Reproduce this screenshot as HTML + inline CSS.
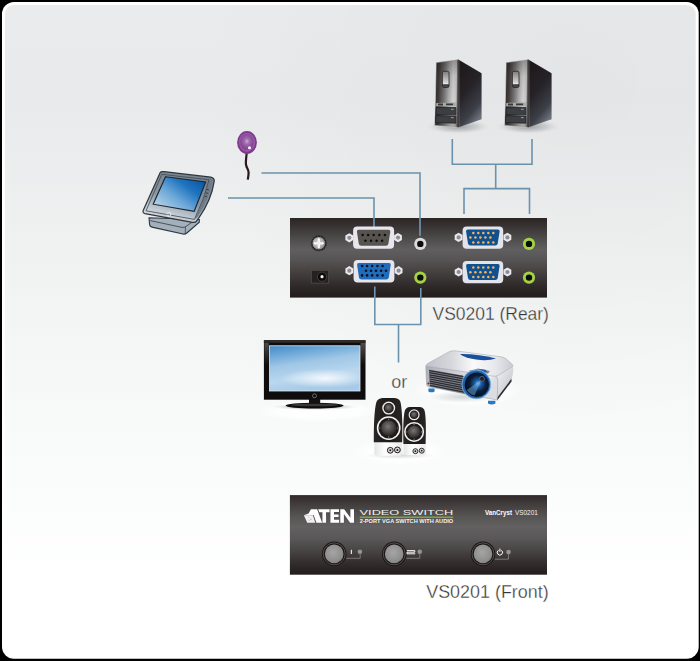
<!DOCTYPE html>
<html>
<head>
<meta charset="utf-8">
<title>VS0201 Diagram</title>
<style>
html,body{margin:0;padding:0;background:#000;}
body{width:700px;height:661px;overflow:hidden;font-family:"Liberation Sans",sans-serif;}
svg{display:block;}
text{font-family:"Liberation Sans",sans-serif;}
</style>
</head>
<body>
<svg width="700" height="661" viewBox="0 0 700 661">
<defs>
  <linearGradient id="bg" x1="0" y1="0" x2="0" y2="1">
    <stop offset="0" stop-color="#eaebec"/>
    <stop offset="0.15" stop-color="#e9eaeb"/>
    <stop offset="0.38" stop-color="#f0f1f1"/>
    <stop offset="0.6" stop-color="#f7f8f8"/>
    <stop offset="0.76" stop-color="#fbfcfc"/>
    <stop offset="0.87" stop-color="#ffffff"/>
  </linearGradient>
  <radialGradient id="bgdark" cx="0.82" cy="0.12" r="0.55">
    <stop offset="0" stop-color="#000000" stop-opacity="0.022"/>
    <stop offset="0.5" stop-color="#000000" stop-opacity="0.014"/>
    <stop offset="1" stop-color="#000000" stop-opacity="0"/>
  </radialGradient>
  <linearGradient id="dev" x1="0" y1="0" x2="0" y2="1">
    <stop offset="0" stop-color="#2b2524"/>
    <stop offset="0.12" stop-color="#3a3635"/>
    <stop offset="0.27" stop-color="#504d4d"/>
    <stop offset="0.4" stop-color="#605e5e"/>
    <stop offset="0.52" stop-color="#565454"/>
    <stop offset="0.7" stop-color="#423e3d"/>
    <stop offset="0.87" stop-color="#2d2827"/>
    <stop offset="1" stop-color="#221c1b"/>
  </linearGradient>
  <linearGradient id="devf" x1="0" y1="0" x2="0" y2="1">
    <stop offset="0" stop-color="#302b2a"/>
    <stop offset="0.12" stop-color="#423e3d"/>
    <stop offset="0.27" stop-color="#575454"/>
    <stop offset="0.4" stop-color="#626060"/>
    <stop offset="0.55" stop-color="#595757"/>
    <stop offset="0.72" stop-color="#454140"/>
    <stop offset="0.88" stop-color="#2f2a29"/>
    <stop offset="1" stop-color="#231d1c"/>
  </linearGradient>
  <radialGradient id="screw" cx="0.45" cy="0.45" r="0.6">
    <stop offset="0" stop-color="#d2d2d2"/>
    <stop offset="0.6" stop-color="#b1b1b1"/>
    <stop offset="1" stop-color="#7d7b7b"/>
  </radialGradient>
  <radialGradient id="btng" cx="0.45" cy="0.42" r="0.7">
    <stop offset="0" stop-color="#a6a5a5"/>
    <stop offset="0.7" stop-color="#8e8d8d"/>
    <stop offset="1" stop-color="#757373"/>
  </radialGradient>
  <linearGradient id="pcfront" x1="0" y1="0" x2="1" y2="0.08">
    <stop offset="0" stop-color="#2f2a29"/>
    <stop offset="0.2" stop-color="#403c3b"/>
    <stop offset="0.45" stop-color="#7a7878"/>
    <stop offset="0.65" stop-color="#b3b2b2"/>
    <stop offset="0.8" stop-color="#d2d2d2"/>
    <stop offset="0.92" stop-color="#c6c6c6"/>
    <stop offset="1" stop-color="#767373"/>
  </linearGradient>
  <linearGradient id="pcfrontv" x1="0" y1="0" x2="0" y2="1">
    <stop offset="0" stop-color="#1a1514" stop-opacity="0.35"/>
    <stop offset="0.25" stop-color="#1a1514" stop-opacity="0.08"/>
    <stop offset="0.6" stop-color="#1a1514" stop-opacity="0"/>
    <stop offset="1" stop-color="#1a1514" stop-opacity="0.25"/>
  </linearGradient>
  <linearGradient id="pcside" x1="0.2" y1="0" x2="0.6" y2="1">
    <stop offset="0" stop-color="#1d1819"/>
    <stop offset="0.45" stop-color="#262328"/>
    <stop offset="0.8" stop-color="#3d4048"/>
    <stop offset="1" stop-color="#6f747c"/>
  </linearGradient>
  <linearGradient id="pcbtn" x1="0" y1="0" x2="0" y2="1">
    <stop offset="0" stop-color="#7d7c7c"/>
    <stop offset="0.7" stop-color="#d6d6d6"/>
    <stop offset="0.8" stop-color="#f2f2f2"/>
    <stop offset="0.82" stop-color="#333"/>
    <stop offset="1" stop-color="#555"/>
  </linearGradient>
  <radialGradient id="shadow" cx="0.5" cy="0.5" r="0.5">
    <stop offset="0" stop-color="#7f8387" stop-opacity="0.75"/>
    <stop offset="0.6" stop-color="#a9acaf" stop-opacity="0.45"/>
    <stop offset="1" stop-color="#d8d9da" stop-opacity="0"/>
  </radialGradient>
  <g id="pc">
    <ellipse cx="458" cy="126.5" rx="32" ry="7.5" fill="url(#shadow)"/>
    <path d="M458.7 59.7 L481.6 73.2 L481.6 119.2 L458.7 127.3 Z" fill="url(#pcside)"/>
    <path d="M436.2 62.6 L458.7 59.5 L458.7 127.5 L434.7 125.4 Z" fill="url(#pcfront)" stroke="#d9d9d9" stroke-width="0.7"/>
    <path d="M436.2 62.6 L458.7 59.5 L458.7 127.5 L434.7 125.4 Z" fill="url(#pcfrontv)"/>
    <path d="M458.2 59.8 V127.3" stroke="#2a2524" stroke-width="1.2" fill="none"/>
    <rect x="442.4" y="71.3" width="6.6" height="16.2" rx="1.6" fill="url(#pcbtn)" stroke="#2a2625" stroke-width="0.8"/>
    <path d="M436.3 102.9 L455.7 102.5 L455.8 105.9 L436.1 106.2 Z" fill="#a9a8a8"/>
    <path d="M438 103.6 h5 v1.8 h-5z M446 103.5 h7 v1.8 h-7z" fill="#3b3838"/>
    <path d="M436.2 107.6 L455.9 107.5 L455.9 114.8 L435.9 114.6 Z" fill="#3b3e43" stroke="#1f1b1b" stroke-width="0.7"/>
    <path d="M435.8 115.8 L455.9 116 L455.9 123.2 L435.5 122.6 Z" fill="#3b3e43" stroke="#1f1b1b" stroke-width="0.7"/>
    <path d="M451 109.3 h2.6 M451 117.6 h2.6" stroke="#b9b9b9" stroke-width="0.8"/>
  </g>
  <linearGradient id="tsscreen" x1="0.05" y1="0.85" x2="0.9" y2="0.1">
    <stop offset="0" stop-color="#b9d3e8"/>
    <stop offset="0.4" stop-color="#6aa7d8"/>
    <stop offset="0.72" stop-color="#1f74bf"/>
    <stop offset="1" stop-color="#0c58a4"/>
  </linearGradient>
  <linearGradient id="tsbody" x1="0.7" y1="0" x2="0.3" y2="1">
    <stop offset="0" stop-color="#74808c"/>
    <stop offset="0.55" stop-color="#8a97a3"/>
    <stop offset="0.8" stop-color="#bfc8d0"/>
    <stop offset="1" stop-color="#dbe1e6"/>
  </linearGradient>
  <radialGradient id="irg" cx="0.5" cy="0.45" r="0.55">
    <stop offset="0" stop-color="#cfa8d5"/>
    <stop offset="0.35" stop-color="#a06aae"/>
    <stop offset="1" stop-color="#7d3d8d"/>
  </radialGradient>
  <linearGradient id="tvscr" x1="0" y1="0" x2="0.3" y2="1">
    <stop offset="0" stop-color="#4189c6"/>
    <stop offset="0.2" stop-color="#6aa6d7"/>
    <stop offset="0.45" stop-color="#a0c7e6"/>
    <stop offset="0.75" stop-color="#bad7ee"/>
    <stop offset="1" stop-color="#a6cae7"/>
  </linearGradient>
  <radialGradient id="tvglow" cx="0.62" cy="0.72" r="0.5" gradientTransform="translate(0 0.42) scale(1 0.42)">
    <stop offset="0" stop-color="#ffffff" stop-opacity="0.85"/>
    <stop offset="1" stop-color="#ffffff" stop-opacity="0"/>
  </radialGradient>
  <radialGradient id="lens" cx="0.55" cy="0.45" r="0.55">
    <stop offset="0" stop-color="#6fb3e6"/>
    <stop offset="0.25" stop-color="#1c5fa4"/>
    <stop offset="0.6" stop-color="#0a1f3d"/>
    <stop offset="1" stop-color="#050d1c"/>
  </radialGradient>
  <linearGradient id="prtop" x1="0" y1="0.5" x2="1" y2="0.5">
    <stop offset="0" stop-color="#bfc2ca"/>
    <stop offset="0.3" stop-color="#d6d8dd"/>
    <stop offset="0.55" stop-color="#fafafb"/>
    <stop offset="0.8" stop-color="#e6e7eb"/>
    <stop offset="1" stop-color="#c9ccd3"/>
  </linearGradient>
  <linearGradient id="prfront" x1="0" y1="0" x2="1" y2="0.2">
    <stop offset="0" stop-color="#a9acb5"/>
    <stop offset="0.5" stop-color="#d2d4da"/>
    <stop offset="0.85" stop-color="#f8f8fa"/>
    <stop offset="1" stop-color="#dcdde2"/>
  </linearGradient>
  <linearGradient id="prside" x1="0" y1="0" x2="1" y2="1">
    <stop offset="0" stop-color="#f6f6f8"/>
    <stop offset="0.6" stop-color="#d0d2d8"/>
    <stop offset="1" stop-color="#9da0a9"/>
  </linearGradient>
  <radialGradient id="spk" cx="0.45" cy="0.4" r="0.6">
    <stop offset="0" stop-color="#7a7676"/>
    <stop offset="0.55" stop-color="#4e4a4a"/>
    <stop offset="1" stop-color="#2a2626"/>
  </radialGradient>
  <linearGradient id="spkbody" x1="0" y1="0" x2="1" y2="0">
    <stop offset="0" stop-color="#2b2626"/>
    <stop offset="0.5" stop-color="#1d1919"/>
    <stop offset="1" stop-color="#2a2525"/>
  </linearGradient>
  <linearGradient id="spkbase" x1="0" y1="0" x2="1" y2="0">
    <stop offset="0" stop-color="#e4e5e7"/>
    <stop offset="0.4" stop-color="#ffffff"/>
    <stop offset="1" stop-color="#e9eaec"/>
  </linearGradient>
  <radialGradient id="wglow" cx="0.5" cy="0.5" r="0.5">
    <stop offset="0" stop-color="#ffffff" stop-opacity="0.95"/>
    <stop offset="0.65" stop-color="#ffffff" stop-opacity="0.8"/>
    <stop offset="1" stop-color="#ffffff" stop-opacity="0"/>
  </radialGradient>
  <linearGradient id="tvgloss" x1="0" y1="0" x2="0" y2="1">
    <stop offset="0" stop-color="#6a6666" stop-opacity="0.7"/>
    <stop offset="1" stop-color="#6a6666" stop-opacity="0"/>
  </linearGradient>
</defs>

<!-- panel -->
<rect x="2" y="2" width="696.7" height="656.8" rx="12" ry="12" fill="#ffffff"/>
<rect x="5" y="5" width="690.7" height="651" rx="9" ry="9" fill="url(#bg)"/>
<rect x="5" y="5" width="690.7" height="651" rx="9" ry="9" fill="url(#bgdark)"/>

<!-- connection lines -->
<g id="lines" fill="none" stroke="#6a92ac" stroke-width="1.6">
  <path d="M261.5 173 H420 V236"/>
  <path d="M228 198 H374 V228"/>
  <path d="M452.3 139 V164.3 H532 V139"/>
  <path d="M495.7 164.3 V188.6"/>
  <path d="M464 214 V188.6 H529.5 V214"/>
  <path d="M374.8 296 V324.5 H420.8 V296"/>
  <path d="M398.5 324.5 V362.5"/>
</g>

<!-- computers -->
<use href="#pc"/>
<use href="#pc" x="70"/>

<!-- touchscreen -->
<g id="touch">
  <path d="M149 217.8 L149.6 224.6 Q149.9 226.6 152 227.1 L183 234 Q185.2 234.4 186.8 233 L199.3 222.2 L199.3 219.5 Z" fill="#a3afba" stroke="#2e353c" stroke-width="1.1"/>
  <path d="M150.2 220.6 L182 227.4 Q184.3 227.7 186 226.4 L197.5 218.5" fill="none" stroke="#3d4750" stroke-width="0.9"/>
  <path d="M185.5 227 L185.2 233.6" fill="none" stroke="#3d4750" stroke-width="0.8"/>
  <path d="M160.3 172.3 Q161 171.4 164 171.7 L210.8 177.2 Q214.6 178 214.2 181.4 Q211.4 200 199 217.7 L196.3 221.4 Q195.2 222.8 192.6 222.3 L145 213.6 Q142.4 213 143.2 210.4 Z" fill="url(#tsbody)" stroke="#2e353c" stroke-width="1.2"/>
  <path d="M209 178.6 Q212.6 179.3 212.2 182 Q209.6 199 197.6 217 L194.6 219.3 Q205 200 209 178.6 Z" fill="#6f7c88"/>
  <path d="M161.8 174.3 L209 179.8 Q204.5 199 194.4 219.4 L146 210.8 Z" fill="none" stroke="#3d4750" stroke-width="0.8"/>
  <path d="M165.5 176.7 L205.7 182 L194.2 211.3 L153.2 204.2 Z" fill="url(#tsscreen)" stroke="#1d262f" stroke-width="1.1"/>
  <path d="M166.4 214.2 q1.6 -3 4.2 -1.2 q1.4 2.4 -1.4 3.6 q-2 -.2 -1.2 -1.8" fill="none" stroke="#f4f6f8" stroke-width="0.8"/>
  <path d="M206.6 189.6 q2 -.6 2.2 .8 M205.8 193 q2 -.6 2.2 .8 M204.8 196.4 q2 -.6 2.2 .8" stroke="#27323d" stroke-width="0.9" fill="none"/>
</g>

<!-- IR receiver -->
<g id="ir">
  <path d="M246.8 151 C246.6 156 245.6 160.5 245.9 164 C246.4 168 248.6 169.5 248.6 172.6 C248.6 175.4 248.1 177.4 247.8 179.6" fill="none" stroke="#2a1a1c" stroke-width="2.2"/>
  <ellipse cx="247" cy="142.5" rx="9.9" ry="11.4" fill="#7b3a8b"/>
  <ellipse cx="247" cy="142.3" rx="8.2" ry="9.6" fill="#9656a4"/>
  <ellipse cx="246.9" cy="142" rx="6.6" ry="7.8" fill="url(#irg)"/>
  <circle cx="249.5" cy="147.7" r="1.5" fill="#ffffff"/>
</g>

<!-- rear device -->
<g id="rear">
  <rect x="290" y="218" width="257" height="79.6" fill="url(#dev)"/>
  <!-- lines that overlay the box -->
  <g fill="none" stroke="#79a7c6" stroke-width="1.4">
    <path d="M374 217 V227"/>
    <path d="M420 217 V235.8"/>
    <path d="M374.8 286.6 V299"/>
    <path d="M420.8 288 V299"/>
  </g>
  <!-- screw -->
  <circle cx="318.8" cy="243.3" r="8" fill="#1f1a19"/>
  <circle cx="318.8" cy="243.3" r="7.3" fill="none" stroke="#6d6969" stroke-width="0.7" stroke-dasharray="1.6 1.1"/>
  <circle cx="318.8" cy="243.3" r="6.3" fill="url(#screw)"/>
  <path d="M318.8 239.3 V247.3 M314.8 243.3 H322.8" stroke="#ffffff" stroke-width="2.2" stroke-linecap="round" fill="none"/>
  <path d="M318.8 240.3 V246.3 M315.8 243.3 H321.8" stroke="#e6e6e6" stroke-width="0.7" stroke-linecap="round" fill="none"/>
  <!-- DC jack -->
  <rect x="311.3" y="270.3" width="17.4" height="12.8" fill="#262120" stroke="#555150" stroke-width="0.7"/>
  <circle cx="322" cy="276.7" r="4.6" fill="#0c0a0a" stroke="#4d4948" stroke-width="0.8"/>
  <circle cx="322" cy="276.7" r="1.6" fill="#f2f2f2"/>

  <!-- DB9 -->
  <g id="db9">
    <path d="M349.3 233.2 l3.9 2.3 v4.6 l-3.9 2.3 l-3.9 -2.3 v-4.6 z" fill="#e9e9ef"/>
    <circle cx="349.3" cy="237.8" r="2.1" fill="#8f8d92"/>
    <path d="M398 233 l3.9 2.3 v4.6 l-3.9 2.3 l-3.9 -2.3 v-4.6 z" fill="#e9e9ef"/>
    <circle cx="398" cy="237.6" r="2.1" fill="#8f8d92"/>
    <rect x="353.1" y="226.4" width="41" height="22.3" rx="4" ry="4" fill="#e6e6ec"/>
    <path d="M358.6 229.8 H388.6 Q390.6 229.8 390.3 231.8 L388.4 243.8 Q388 245.8 386 245.8 H361.2 Q359.2 245.8 358.8 243.8 L356.9 231.8 Q356.6 229.8 358.6 229.8 Z" fill="#57534f"/>
    <g fill="#0e0c0c">
      <circle cx="362.6" cy="235" r="1.25"/><circle cx="368.1" cy="235" r="1.25"/><circle cx="373.7" cy="235" r="1.25"/><circle cx="379.3" cy="235" r="1.25"/><circle cx="384.9" cy="235" r="1.25"/>
      <circle cx="365.4" cy="240.7" r="1.25"/><circle cx="371" cy="240.7" r="1.25"/><circle cx="376.6" cy="240.7" r="1.25"/><circle cx="382.1" cy="240.7" r="1.25"/>
    </g>
  </g>
  <!-- VGA out (blue) -->
  <g id="vgaout">
    <path d="M349.3 266.1 l3.9 2.3 v4.6 l-3.9 2.3 l-3.9 -2.3 v-4.6 z" fill="#e9e9ef"/>
    <circle cx="349.3" cy="270.7" r="2.1" fill="#8f8d92"/>
    <path d="M398.6 266.1 l3.9 2.3 v4.6 l-3.9 2.3 l-3.9 -2.3 v-4.6 z" fill="#e9e9ef"/>
    <circle cx="398.6" cy="270.7" r="2.1" fill="#8f8d92"/>
    <rect x="353.6" y="260" width="40.8" height="22.5" rx="4" ry="4" fill="#e6e6ec"/>
    <path d="M359 262.9 H389 Q391 262.9 390.7 264.9 L388.8 277.4 Q388.4 279.4 386.4 279.4 H361.4 Q359.4 279.4 359 277.4 L357.1 264.9 Q356.8 262.9 358.8 262.9 Z" fill="#1f6cba"/>
    <g fill="#0b1020">
      <circle cx="362.1" cy="266" r="1.3"/><circle cx="367.1" cy="266" r="1.3"/><circle cx="372.1" cy="266" r="1.3"/><circle cx="377.4" cy="266" r="1.3"/><circle cx="382.6" cy="266" r="1.3"/>
      <circle cx="366" cy="270.7" r="1.3"/><circle cx="371" cy="270.7" r="1.3"/><circle cx="376" cy="270.7" r="1.3"/><circle cx="381.1" cy="270.7" r="1.3"/><circle cx="386" cy="270.7" r="1.3"/>
      <circle cx="362.1" cy="275.4" r="1.3"/><circle cx="367.1" cy="275.4" r="1.3"/><circle cx="372.1" cy="275.4" r="1.3"/><circle cx="377.4" cy="275.4" r="1.3"/><circle cx="382.6" cy="275.4" r="1.3"/>
    </g>
  </g>
  <!-- audio jacks left -->
  <circle cx="420.3" cy="243.9" r="6.1" fill="#dcdcdc"/>
  <circle cx="420.3" cy="243.9" r="3.2" fill="#0d0b0b"/>
  <circle cx="420.3" cy="277.6" r="6.1" fill="#a3d345"/>
  <circle cx="420.3" cy="277.6" r="3.2" fill="#0d0b0b"/>

  <!-- VGA in 1 & 2 -->
  <g id="vgain">
    <path d="M458.6 232.8 l3.9 2.3 v4.6 l-3.9 2.3 l-3.9 -2.3 v-4.6 z" fill="#e9e9ef"/>
    <circle cx="458.6" cy="237.4" r="2.1" fill="#8f8d92"/>
    <path d="M507.4 232.8 l3.9 2.3 v4.6 l-3.9 2.3 l-3.9 -2.3 v-4.6 z" fill="#e9e9ef"/>
    <circle cx="507.4" cy="237.4" r="2.1" fill="#8f8d92"/>
    <rect x="462.6" y="226.4" width="40.6" height="22.3" rx="4" ry="4" fill="#e3e3ea"/>
    <path d="M467.8 229.5 H497.9 Q499.9 229.5 499.6 231.5 L497.7 243.5 Q497.3 245.5 495.3 245.5 H470.4 Q468.4 245.5 468 243.5 L466.1 231.5 Q465.8 229.5 467.8 229.5 Z" fill="#10508f"/>
    <g fill="#f7b65c">
      <circle cx="473.3" cy="232.9" r="1.25"/><circle cx="478.3" cy="232.9" r="1.25"/><circle cx="483.3" cy="232.9" r="1.25"/><circle cx="488.3" cy="232.9" r="1.25"/><circle cx="493.3" cy="232.9" r="1.25"/>
      <circle cx="470.4" cy="237.6" r="1.25"/><circle cx="475.4" cy="237.6" r="1.25"/><circle cx="480.4" cy="237.6" r="1.25"/><circle cx="485.4" cy="237.6" r="1.25"/><circle cx="490.4" cy="237.6" r="1.25"/>
      <circle cx="473.3" cy="242.4" r="1.25"/><circle cx="478.3" cy="242.4" r="1.25"/><circle cx="483.3" cy="242.4" r="1.25"/><circle cx="488.3" cy="242.4" r="1.25"/><circle cx="493.3" cy="242.4" r="1.25"/>
    </g>
  </g>
  <use href="#vgain" y="34.6"/>
  <!-- audio jacks right -->
  <circle cx="529" cy="243.9" r="6.1" fill="#a3d345"/>
  <circle cx="529" cy="243.9" r="3.2" fill="#0d0b0b"/>
  <circle cx="529" cy="277.6" r="6.1" fill="#a3d345"/>
  <circle cx="529" cy="277.6" r="3.2" fill="#0d0b0b"/>
</g>

<!-- TV -->
<g id="tv">
  <ellipse cx="318" cy="411" rx="62" ry="11" fill="url(#wglow)"/>
  <ellipse cx="314.6" cy="406.8" rx="44" ry="3.4" fill="url(#shadow)"/>
  <rect x="309" y="399" width="11.2" height="6" fill="#141111"/>
  <ellipse cx="314.6" cy="405.6" rx="29" ry="2.9" fill="#0d0b0b"/>
  <ellipse cx="314.6" cy="405" rx="24" ry="1.3" fill="#3a3636"/>
  <rect x="263.9" y="340.2" width="101.6" height="59.5" fill="#0e0c0c"/>
  <rect x="263.9" y="340.2" width="101.6" height="2.6" fill="#2e2a2a"/>
  <rect x="264.4" y="343" width="4.4" height="22" fill="url(#tvgloss)"/>
  <rect x="360.6" y="343" width="4.4" height="22" fill="url(#tvgloss)"/>
  <rect x="269.5" y="345.8" width="90.5" height="45.2" fill="url(#tvscr)"/>
  <rect x="269.5" y="345.8" width="90.5" height="45.2" fill="url(#tvglow)"/>
  <rect x="269.5" y="345.8" width="90.5" height="45.2" fill="none" stroke="#dfeaf3" stroke-width="0.8"/>
  <circle cx="314.5" cy="395.8" r="2" fill="none" stroke="#8a8888" stroke-width="0.7"/>
</g>

<!-- projector -->
<g id="proj">
  <ellipse cx="468" cy="390" rx="54" ry="18" fill="url(#wglow)"/>
  <ellipse cx="462" cy="397" rx="36" ry="6" fill="url(#shadow)" opacity="0.45"/>
  <!-- feet -->
  <path d="M428.4 388.6 h6.2 v2.8 q-3.1 1.8 -6.2 0 z" fill="#2a78c2"/>
  <path d="M488 400.8 h7.4 v2.8 q-3.7 1.8 -7.4 0 z" fill="#2a78c2"/>
  <!-- right side face -->
  <path d="M496 375 L513 366 Q513.8 372 511.6 379.5 L497.2 400 Z" fill="url(#prside)"/>
  <path d="M497 398 L511.4 378.8 L511.5 381.6 L497.1 400.6 Z" fill="#2c2c33"/>
  <!-- front face -->
  <path d="M425.8 366.2 L493 374.8 Q497.6 376 497.8 380 L497.2 400 L428.6 386.8 Q426.6 386.4 426.5 384 Z" fill="url(#prfront)" stroke="#9fa2aa" stroke-width="0.6"/>
  <!-- top -->
  <path d="M425.8 366 Q426.4 364 429.4 362.6 L449 351.8 Q451.6 350.6 455 350.8 L501 356.8 Q504 357.2 506.4 359 L512.4 364.6 Q513.6 365.8 512 366.8 L498 375.6 Q495.5 376.6 492.5 376 Z" fill="url(#prtop)" stroke="#a9acb4" stroke-width="0.6"/>
  <!-- blue oval -->
  <path d="M460 354 Q478 353.6 496 358.6 Q488 361.2 476 359.6 Q464 357.8 460 354 Z" fill="#1a4f9e"/>
  <!-- grille -->
  <path d="M429 369.6 L463 375.4 L467.4 394.4 L429.8 386.6 Z" fill="#7f828a"/>
  <g stroke="#2c2c33" stroke-width="1.25" fill="none">
    <path d="M429.2 370.6 L463.4 376.6"/>
    <path d="M429.3 372.7 L463.8 378.9"/>
    <path d="M429.4 374.8 L464.2 381.2"/>
    <path d="M429.5 376.9 L464.6 383.5"/>
    <path d="M429.6 379 L465 385.8"/>
    <path d="M429.7 381.1 L465.6 388.1"/>
    <path d="M429.8 383.2 L466.2 390.4"/>
    <path d="M429.9 385.3 L466.8 392.7"/>
  </g>
  <circle cx="428.4" cy="383.4" r="1" fill="#8a2222"/>
  <!-- knob on top of lens -->
  <path d="M468 371 L478 368.6 L490 371 L488 373.8 L480 372 Z" fill="#8b8f98"/>
  <path d="M478.5 369 l7 .8 l2.4 2.6 l-5 -1 z" fill="#1d5fae"/>
  <!-- lens -->
  <circle cx="476.3" cy="384.4" r="14.4" fill="#1d62ad"/>
  <circle cx="476.3" cy="384.4" r="14.4" fill="none" stroke="#86b4de" stroke-width="0.8"/>
  <circle cx="476.8" cy="384.7" r="12.1" fill="url(#lens)"/>
  <path d="M481.5 379.6 L474.5 395.5 Q469.5 394.5 466.8 390 Z" fill="#79b9ea" opacity="0.45"/>
  <circle cx="482" cy="378.8" r="2.5" fill="#1a2238" stroke="#6d7f9c" stroke-width="0.6"/>
</g>

<!-- speakers -->
<g id="speakers">
  <ellipse cx="400" cy="452" rx="48" ry="14" fill="url(#wglow)"/>
  <ellipse cx="400" cy="455.5" rx="36" ry="3.6" fill="url(#shadow)" opacity="0.4"/>
  <!-- right small -->
  <path d="M403.6 441 L425.4 441 L426 452 Q426 455 423 455.1 L406.5 455.1 Q403.4 455 403.4 452 Z" fill="url(#spkbase)"/>
  <path d="M403.4 444 Q402.8 420 404.6 411.5 Q405.6 407 410 407 L419.4 407 Q424 407 424.8 411.5 Q426.4 420 425.6 444 Z" fill="url(#spkbody)"/>
  <circle cx="414.1" cy="414.8" r="5.5" fill="#ededed"/>
  <circle cx="414.1" cy="414.8" r="4.3" fill="#1f1b1b"/>
  <circle cx="414.1" cy="414.8" r="3.4" fill="url(#spk)"/>
  <circle cx="414.1" cy="431.9" r="10" fill="#f3f3f3"/>
  <circle cx="414.1" cy="431.9" r="8.5" fill="#1f1b1b"/>
  <circle cx="414.1" cy="431.9" r="6.2" fill="url(#spk)"/>
  <g fill="#8a8686"><circle cx="414.1" cy="424.6" r="0.6"/><circle cx="414.1" cy="439.2" r="0.6"/><circle cx="406.8" cy="431.9" r="0.6"/><circle cx="421.4" cy="431.9" r="0.6"/></g>
  <circle cx="415.4" cy="451.2" r="2.5" fill="#d9d9d9" stroke="#1c1818" stroke-width="0.9"/>
  <circle cx="415.4" cy="451.2" r="0.9" fill="#1c1818"/>
  <circle cx="421.7" cy="450.7" r="2.5" fill="#d9d9d9" stroke="#1c1818" stroke-width="0.9"/>
  <circle cx="421.7" cy="450.7" r="0.9" fill="#1c1818"/>
  <!-- left big -->
  <path d="M374.4 440 L402 440 L402.4 452.5 Q402.3 455.8 399 455.8 L377.6 455.8 Q374.3 455.8 374.2 452.5 Z" fill="url(#spkbase)"/>
  <path d="M373.8 442.2 Q373.6 415 376 403.5 Q377.2 398.2 382.6 398.1 L394.6 398.1 Q400 398.2 400.8 403.5 Q402.8 415 402.2 442.2 Z" fill="url(#spkbody)"/>
  <circle cx="388.7" cy="408.1" r="6.5" fill="#ededed"/>
  <circle cx="388.7" cy="408.1" r="5.1" fill="#1f1b1b"/>
  <circle cx="388.7" cy="408.1" r="4" fill="url(#spk)"/>
  <circle cx="388.7" cy="428.1" r="11.9" fill="#f3f3f3"/>
  <circle cx="388.7" cy="428.1" r="10.3" fill="#1f1b1b"/>
  <circle cx="388.7" cy="428.1" r="7.6" fill="url(#spk)"/>
  <g fill="#8a8686"><circle cx="388.7" cy="419.2" r="0.7"/><circle cx="388.7" cy="437" r="0.7"/><circle cx="379.8" cy="428.1" r="0.7"/><circle cx="397.6" cy="428.1" r="0.7"/></g>
  <circle cx="390.3" cy="450.3" r="2.9" fill="#d9d9d9" stroke="#1c1818" stroke-width="1"/>
  <circle cx="390.3" cy="450.3" r="1" fill="#1c1818"/>
  <circle cx="397.4" cy="449.9" r="2.9" fill="#d9d9d9" stroke="#1c1818" stroke-width="1"/>
  <circle cx="397.4" cy="449.9" r="1" fill="#1c1818"/>
</g>

<!-- front device -->
<g id="front">
  <rect x="289.9" y="495.1" width="257.1" height="79.6" fill="url(#devf)"/>
  <!-- ATEN logo -->
  <g transform="translate(300,504) scale(0.08571)" fill="#ffffff">
    <path d="M128 60 L200 60 L258 218 L192 218 L158 125 L150 130 L45 130 L100 112 Z"/>
    <path d="M45 130 L150 130 L178 218 L85 218 Z" fill="#f1f1f1"/>
    <path d="M95 150 l14 4 l-4 10 z M120 170 l16 6 l-6 12 l-8 -4 z M100 185 l10 2 l2 10 l-10 -2 z M135 145 l8 3 l-2 8 z" fill="#a9a8a8"/>
    <path d="M212 60 H345 V96 H304 V218 H262 V96 H225 Z"/>
    <path d="M355 60 H455 V93 H397 V122 H450 V153 H397 V185 H456 V218 H355 Z"/>
    <path d="M470 60 H515 L588 160 V60 H630 V218 H585 L512 118 V218 H470 Z"/>
  </g>
  <!-- VIDEO SWITCH -->
  <text x="359.6" y="515.3" font-size="7" fill="#f2f2f2" textLength="93.6" lengthAdjust="spacingAndGlyphs">VIDEO SWITCH</text>
  <rect x="359.8" y="516.6" width="93.4" height="1.2" fill="#86bd3c"/>
  <text x="359.8" y="522.8" font-size="5.2" font-weight="bold" fill="#f4f4f4" textLength="93.4" lengthAdjust="spacingAndGlyphs">2-PORT VGA SWITCH WITH AUDIO</text>
  <!-- VanCryst VS0201 -->
  <text x="485" y="515" font-size="7.2" font-weight="bold" fill="#ffffff" textLength="27" lengthAdjust="spacingAndGlyphs">VanCryst</text>
  <text x="515" y="515.3" font-size="7.6" fill="#f4f4f4" textLength="22.8" lengthAdjust="spacingAndGlyphs">VS0201</text>

  <!-- buttons -->
  <g id="btn">
    <circle cx="334.2" cy="553.9" r="12.3" fill="#1b1615"/>
    <circle cx="334.2" cy="553.9" r="11" fill="none" stroke="#6e6a69" stroke-width="0.7"/>
    <circle cx="334.2" cy="553.9" r="9.3" fill="url(#btng)"/>
  </g>
  <use href="#btn" x="60"/>
  <use href="#btn" x="148.8"/>
  <!-- LEDs + underlines -->
  <g fill="none" stroke="#8a8888" stroke-width="0.8">
    <path d="M346.3 558.3 H360.2 V554"/>
    <path d="M406.3 558.3 H419.8 V554"/>
    <path d="M494.8 559.2 H508.5 V554.4"/>
  </g>
  <circle cx="359.9" cy="551.8" r="2.3" fill="#959494"/>
  <circle cx="419.7" cy="551.8" r="2.3" fill="#959494"/>
  <circle cx="508.5" cy="552.1" r="2.3" fill="#959494"/>
  <!-- labels -->
  <rect x="350.8" y="549.8" width="1.1" height="4.2" fill="#f4f4f4"/>
  <path d="M407 550.6 H414.8 V552.2 H407 V553.8 H415.2" fill="none" stroke="#f4f4f4" stroke-width="1"/>
  <path d="M498.5 550.3 A2.6 2.6 0 1 0 501.3 550.3" fill="none" stroke="#ffffff" stroke-width="1"/>
  <path d="M499.9 548.6 V551.8" fill="none" stroke="#ffffff" stroke-width="1"/>
</g>

<!-- labels -->
<text x="432.6" y="319.5" font-size="17.5" fill="#363636" stroke="#f1f2f2" stroke-width="0.3" textLength="116.3" lengthAdjust="spacingAndGlyphs">VS0201 (Rear)</text>
<text x="426.2" y="597.6" font-size="17.5" fill="#363636" stroke="#fefefe" stroke-width="0.3" textLength="122.5" lengthAdjust="spacingAndGlyphs">VS0201 (Front)</text>
<text x="391.3" y="387.5" font-size="18" fill="#404040" stroke="#f6f7f7" stroke-width="0.3">or</text>
</svg>
</body>
</html>
